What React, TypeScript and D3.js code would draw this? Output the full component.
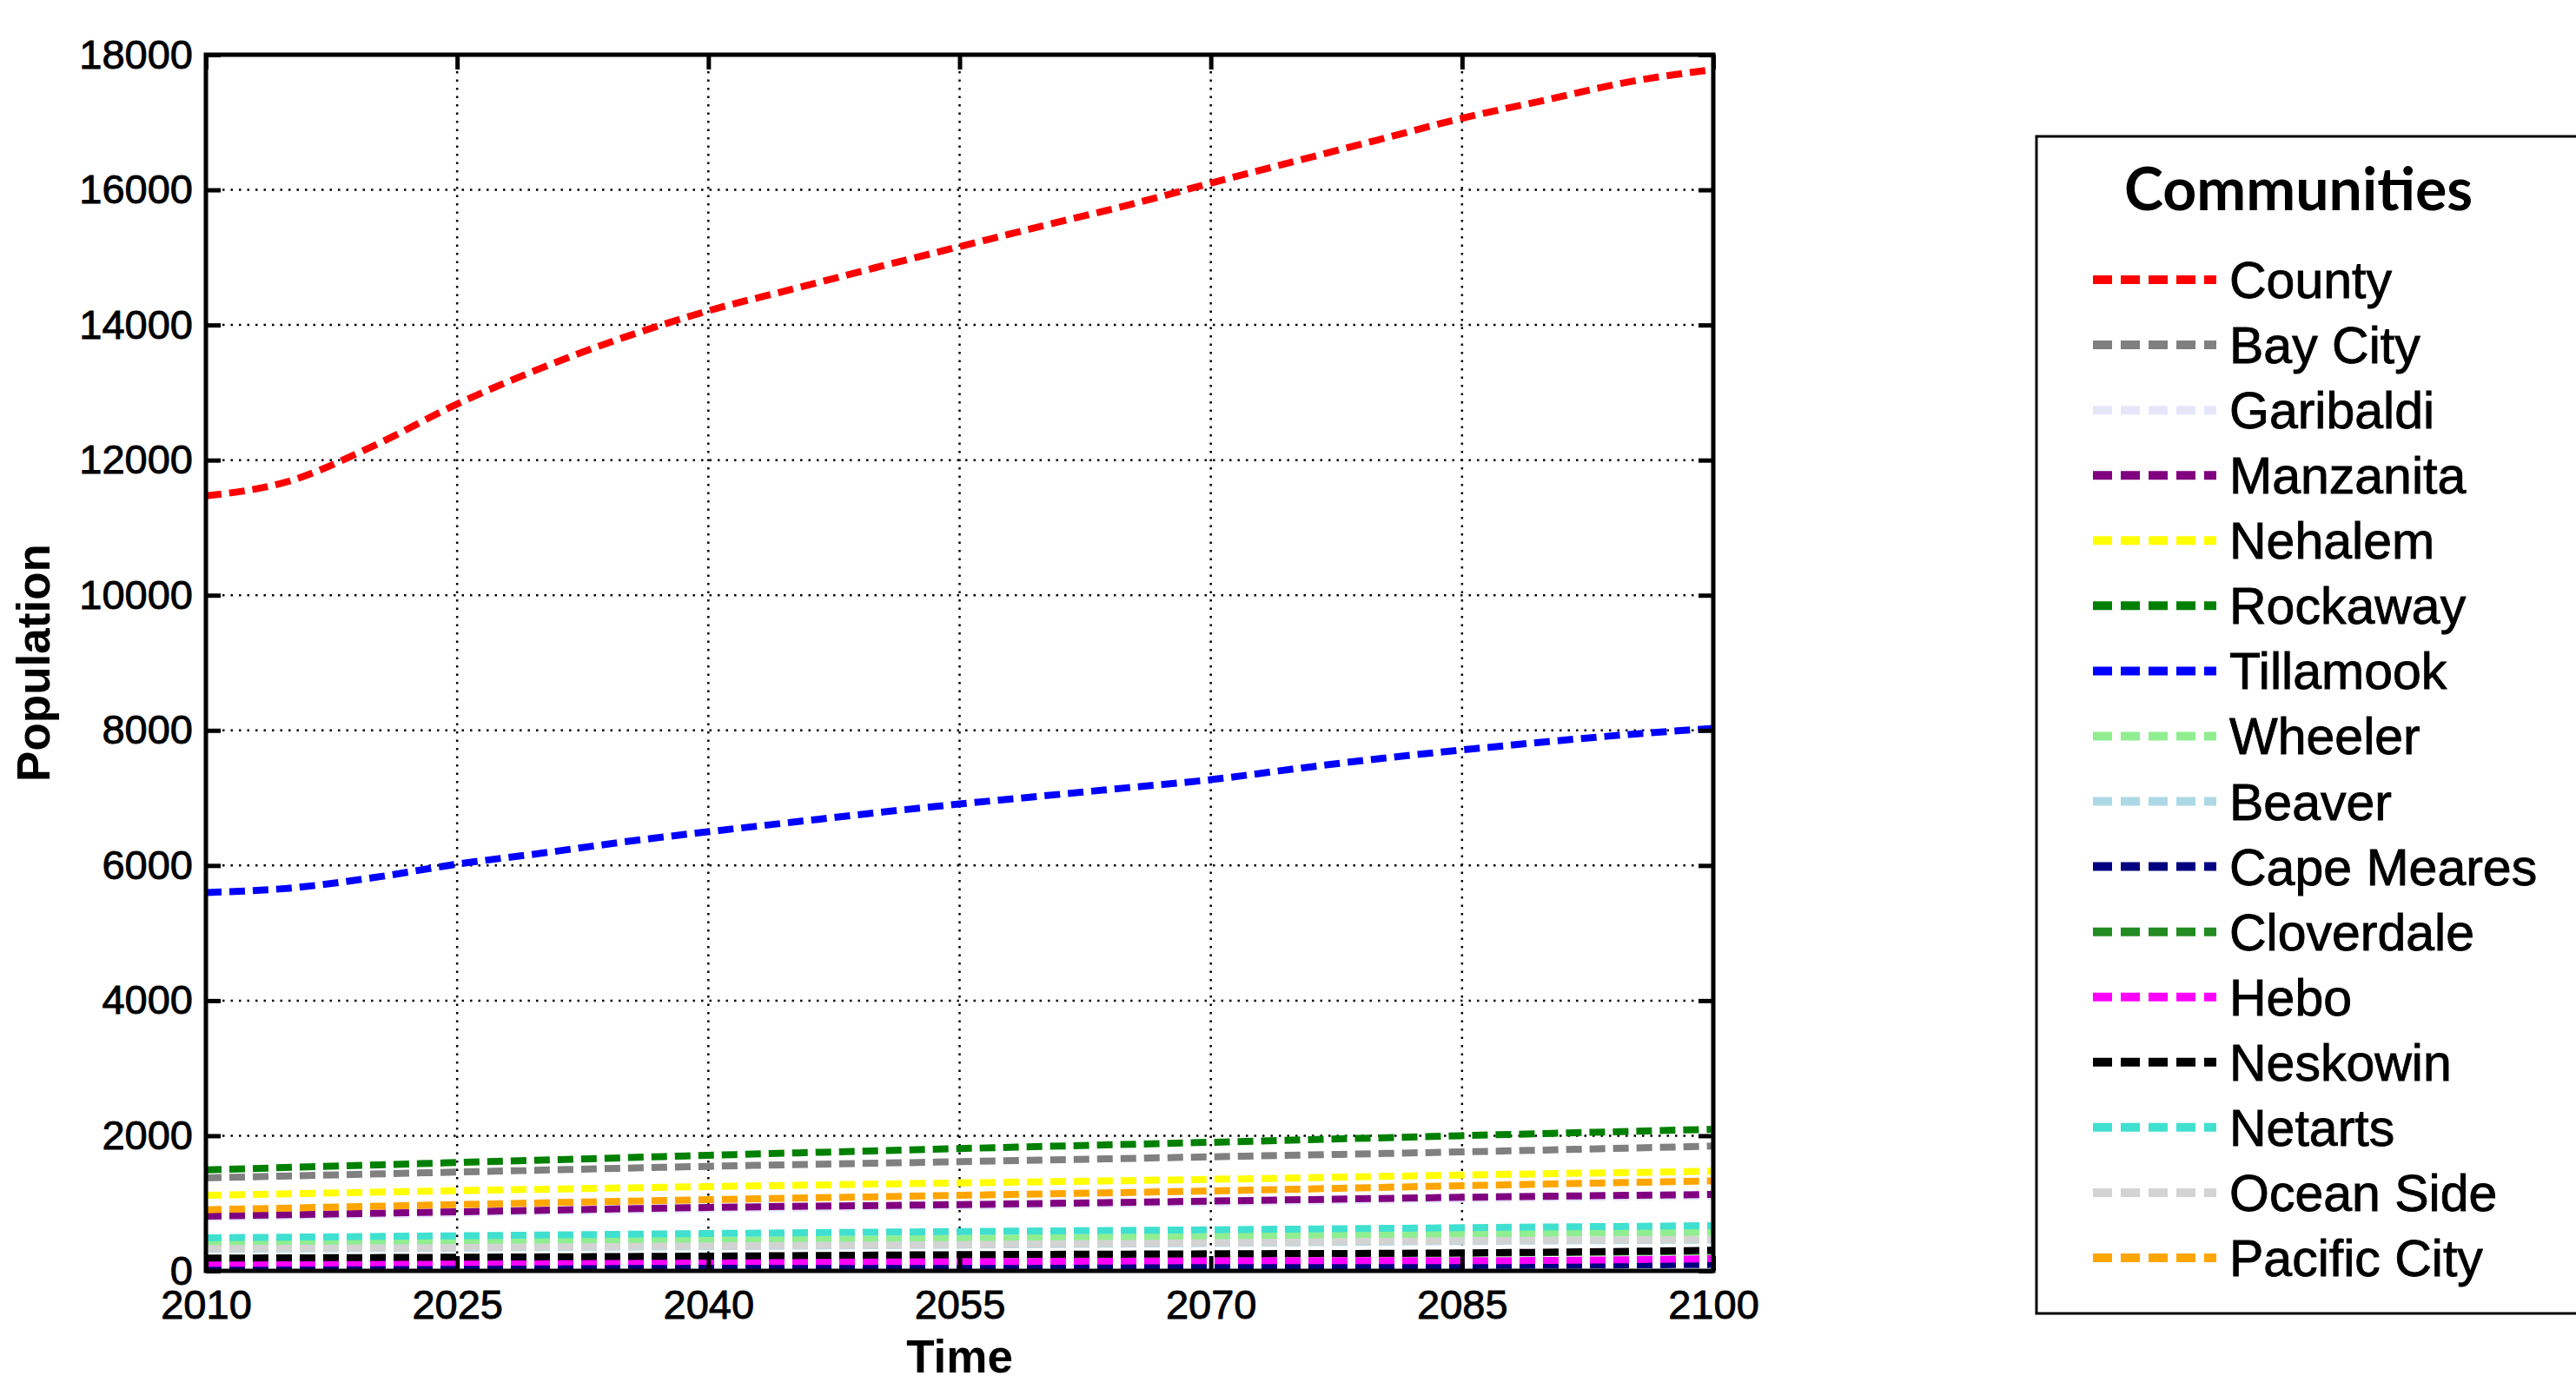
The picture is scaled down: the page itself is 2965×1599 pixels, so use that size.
import React, { useEffect, useRef } from 'react';
import * as d3 from 'd3';

// years
const fineYears = [2010, 2015, 2020, 2025, 2030, 2035, 2040, 2045, 2050, 2055, 2060, 2065, 2070, 2075, 2080, 2085, 2090, 2095, 2100];
const coarseYears = [2010, 2025, 2040, 2055, 2070, 2085, 2100];

const county = [11470, 11690, 12210, 12830, 13360, 13820, 14210, 14530, 14850, 15160, 15470, 15770, 16100, 16420, 16740, 17060, 17330, 17600, 17780];
const tillamook = [5600, 5665, 5820, 6020, 6180, 6350, 6500, 6640, 6780, 6910, 7030, 7150, 7270, 7430, 7580, 7710, 7830, 7940, 8030];

const bayCity = [1376, 1462, 1547, 1616, 1688, 1761, 1847];
const garibaldi = [785, 850, 912, 955, 1006, 1062, 1104];
const manzanita = [810, 874, 939, 981, 1033, 1089, 1131];
const nehalem = [1118, 1187, 1247, 1302, 1354, 1418, 1474];
const rockaway = [1495, 1603, 1710, 1810, 1903, 2001, 2096];
const wheeler = [411, 433, 454, 480, 510, 544, 570];
const beaver = [320, 337, 358, 380, 405, 435, 455];
const capeMeares = [55, 60, 65, 68, 72, 78, 95];
const cloverdale = [180, 193, 210, 230, 245, 260, 290];
const hebo = [110, 125, 140, 137, 150, 150, 180];
const neskowin = [189, 202, 219, 240, 253, 266, 305];
const netarts = [489, 519, 553, 582, 608, 639, 669];
const oceanSide = [330, 347, 369, 390, 416, 446, 467];
const pacificCity = [904, 981, 1054, 1118, 1183, 1260, 1333];

const xTicks = [2010, 2025, 2040, 2055, 2070, 2085, 2100];
const yTicks = [0, 2000, 4000, 6000, 8000, 10000, 12000, 14000, 16000, 18000];

const series = [
  { name: 'County', color: '#ff0000', years: fineYears, values: county },
  { name: 'Bay City', color: '#808080', years: coarseYears, values: bayCity },
  { name: 'Garibaldi', color: '#e6e6fa', years: coarseYears, values: garibaldi },
  { name: 'Manzanita', color: '#800080', years: coarseYears, values: manzanita },
  { name: 'Nehalem', color: '#ffff00', years: coarseYears, values: nehalem },
  { name: 'Rockaway', color: '#008000', years: coarseYears, values: rockaway },
  { name: 'Tillamook', color: '#0000ff', years: fineYears, values: tillamook },
  { name: 'Wheeler', color: '#90ee90', years: coarseYears, values: wheeler },
  { name: 'Beaver', color: '#add8e6', years: coarseYears, values: beaver },
  { name: 'Cape Meares', color: '#000080', years: coarseYears, values: capeMeares },
  { name: 'Cloverdale', color: '#228b22', years: coarseYears, values: cloverdale },
  { name: 'Hebo', color: '#ff00ff', years: coarseYears, values: hebo },
  { name: 'Neskowin', color: '#000000', years: coarseYears, values: neskowin },
  { name: 'Netarts', color: '#40e0d0', years: coarseYears, values: netarts },
  { name: 'Ocean Side', color: '#d3d3d3', years: coarseYears, values: oceanSide },
  { name: 'Pacific City', color: '#ffa500', years: coarseYears, values: pacificCity },
];

const width = 2965;
const height = 1599;
const margin = { top: 63, right: 993, bottom: 136, left: 237 }; // plot box 237..1972, 63..1463
const tickFont = '"Liberation Sans", Arial, sans-serif';

const App = () => {
  const ref = useRef(null);

  useEffect(() => {
    const svg = d3.select(ref.current);
    svg.selectAll('*').remove();

    const x = d3.scaleLinear().domain([2010, 2100]).range([margin.left, width - margin.right]);
    const y = d3.scaleLinear().domain([0, 18000]).range([height - margin.bottom, margin.top]);
    const [x0, x1] = x.range();
    const [y0, y1] = y.range();

    svg.append('rect').attr('width', width).attr('height', height).attr('fill', '#fff');

    // dotted grid
    const grid = svg.append('g').attr('stroke', '#000').attr('stroke-width', 2.5).attr('stroke-dasharray', '2.5 7');
    grid.selectAll('.gx')
      .data(xTicks.slice(1, -1))
      .join('line')
      .attr('x1', d => x(d)).attr('x2', d => x(d))
      .attr('y1', y1).attr('y2', y0);
    grid.selectAll('.gy')
      .data(yTicks.slice(1, -1))
      .join('line')
      .attr('y1', d => y(d)).attr('y2', d => y(d))
      .attr('x1', x0).attr('x2', x1);

    svg.append('clipPath').attr('id', 'plot-clip')
      .append('rect')
      .attr('x', x0).attr('y', y1)
      .attr('width', x1 - x0).attr('height', y0 - y1);

    const line = d3.line()
      .x(d => x(d[0]))
      .y(d => y(d[1]))
      .curve(d3.curveMonotoneX);

    svg.append('g')
      .attr('clip-path', 'url(#plot-clip)')
      .selectAll('path')
      .data(series)
      .join('path')
      .attr('fill', 'none')
      .attr('stroke', d => d.color)
      .attr('stroke-width', 8)
      .attr('stroke-dasharray', '18 9')
      .attr('d', d => line(d.years.map((yr, i) => [yr, d.values[i]])));

    // axes with inward ticks on all four sides
    const styleAxis = g => {
      g.select('.domain').remove();
      g.selectAll('.tick line').attr('stroke', '#000').attr('stroke-width', 5);
      g.selectAll('.tick text')
        .attr('fill', '#000')
        .attr('stroke', '#000')
        .attr('stroke-width', 0.9)
        .style('font-family', tickFont)
        .style('font-size', '47px');
    };

    svg.append('g')
      .attr('transform', `translate(0,${y0})`)
      .call(d3.axisBottom(x).tickValues(xTicks).tickFormat(d3.format('d')).tickSizeInner(-17).tickSizeOuter(0).tickPadding(22))
      .call(styleAxis);
    svg.append('g')
      .attr('transform', `translate(0,${y1})`)
      .call(d3.axisTop(x).tickValues(xTicks).tickFormat(() => '').tickSizeInner(-17).tickSizeOuter(0))
      .call(styleAxis);
    svg.append('g')
      .attr('transform', `translate(${x0},0)`)
      .call(d3.axisLeft(y).tickValues(yTicks).tickFormat(d3.format('d')).tickSizeInner(-17).tickSizeOuter(0).tickPadding(15))
      .call(styleAxis);
    svg.append('g')
      .attr('transform', `translate(${x1},0)`)
      .call(d3.axisRight(y).tickValues(yTicks).tickFormat(() => '').tickSizeInner(-17).tickSizeOuter(0))
      .call(styleAxis);

    svg.append('rect')
      .attr('x', x0).attr('y', y1)
      .attr('width', x1 - x0).attr('height', y0 - y1)
      .attr('fill', 'none').attr('stroke', '#000').attr('stroke-width', 5);

    svg.append('text')
      .attr('x', (x0 + x1) / 2)
      .attr('y', 1580)
      .attr('text-anchor', 'middle')
      .style('font-family', tickFont)
      .style('font-weight', 'bold')
      .style('font-size', '53px')
      .text('Time');

    svg.append('text')
      .attr('transform', `translate(57,${(y0 + y1) / 2}) rotate(-90)`)
      .attr('text-anchor', 'middle')
      .style('font-family', tickFont)
      .style('font-weight', 'bold')
      .style('font-size', '53px')
      .text('Population');

    // legend box (runs off the right edge like the original)
    const legend = svg.append('g');
    legend.append('rect')
      .attr('x', 2344).attr('y', 157)
      .attr('width', 700).attr('height', 1355)
      .attr('fill', '#fff').attr('stroke', '#000').attr('stroke-width', 3);

    legend.append('text')
      .attr('x', 2445).attr('y', 242)
      .style('font-family', 'Lato, "Open Sans", sans-serif')
      .style('font-weight', 'bold')
      .style('font-size', '68px')
      .text('Communities');

    const row = d3.scaleLinear().domain([0, series.length - 1]).range([322, 1448]);

    const item = legend.selectAll('.item')
      .data(series)
      .join('g')
      .attr('transform', (d, i) => `translate(0,${row(i)})`);

    item.append('line')
      .attr('x1', 2409).attr('x2', 2551)
      .attr('stroke', d => d.color)
      .attr('stroke-width', 10)
      .attr('stroke-dasharray', '22 10');

    item.append('text')
      .attr('x', 2566).attr('y', 21)
      .attr('stroke', '#000')
      .attr('stroke-width', 0.9)
      .style('font-family', tickFont)
      .style('font-size', '59px')
      .text(d => d.name);
  }, []);

  return (
    <svg
      ref={ref}
      width={width}
      height={height}
      style={{ position: 'absolute', left: 0, top: 0, display: 'block' }}
    />
  );
};

export default App;
